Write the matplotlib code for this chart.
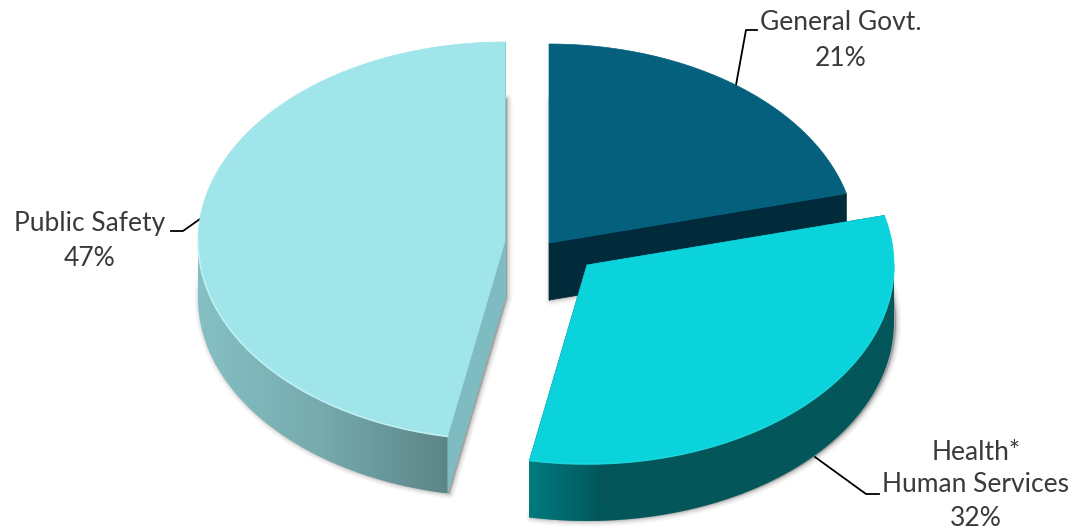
import numpy as np
import matplotlib
matplotlib.use("Agg")
import matplotlib.pyplot as plt
from matplotlib.colors import LinearSegmentedColormap
from matplotlib.patches import Polygon

######################### DATA #########################

categories = ["General Govt.", "Health*\nHuman Services", "Public Safety"]
shares = [21, 32, 47]

######################### STYLE #########################

RX, RY, DEPTH = 307, 199, 57
centers = [(549, 243), (587, 265), (505, 241)]
top_colors = ["#04607C", "#0AD3DC", "#9FE5E9"]
face_colors = ["#012B3B", "#03565A", "#7EBCC2"]
wall_colors = [("#012B3B", "#012B3B"), ("#007B80", "#03565A", "#03565A", "#03565A", "#03565A", "#03565A"),
               ("#85C0C4", "#76AAAD", "#5C8587")]
rim_colors = [None, "#1FD8DE", "#C8F6F7"]

# label centre x, first line y, line gap and the leader line for each slice
label_x = [841, 976, 90]
label_y = [22, 452, 223]
label_gap = [36, 33, 36]
leaders = [([736, 746, 757], [85, 30, 30]),
           ([815, 866, 879], [457, 494, 494]),
           ([171, 183, 200], [231, 231, 219])]

plt.rcParams["font.family"] = ["Lato", "DejaVu Sans"]


def rim(center, a0, a1):
    # angles run clockwise from the top of the pie, y axis points down
    t = np.radians(np.linspace(a0, a1, 200))
    return center[0] + RX * np.sin(t), center[1] - RY * np.cos(t)


def draw_shadow(ax, xs, ys):
    for lw, alpha in [(8, 0.04), (6, 0.06), (4, 0.08), (2.5, 0.1), (1.2, 0.12)]:
        ax.add_patch(Polygon(np.column_stack([xs, ys]), closed=True, facecolor="#555555",
                             edgecolor="#555555", lw=lw, alpha=alpha, joinstyle="round", zorder=1))


def draw_slice(ax, i, a0, a1):
    cx, cy = centers[i]
    x, y = rim(centers[i], a0, a1)
    top_x = np.r_[cx, x]
    top_y = np.r_[cy, y]

    ##### SOFT SHADOW FROM THE BOTTOM FACE #####
    draw_shadow(ax, top_x + 2, top_y + DEPTH)

    z = 2 + i * 2

    ##### CUT FACES #####
    for ex, ey in [(x[0], y[0]), (x[-1], y[-1])]:
        ax.add_patch(Polygon([(cx, cy), (ex, ey), (ex, ey + DEPTH), (cx, cy + DEPTH)],
                             closed=True, facecolor=face_colors[i], edgecolor=face_colors[i],
                             lw=0.5, zorder=z))

    ##### OUTER WALL WITH HORIZONTAL GRADIENT #####
    w0, w1 = max(a0, 90), min(a1, 270)
    if w1 > w0:
        wx, wy = rim(centers[i], w0, w1)
        wall = Polygon(np.column_stack([np.r_[wx, wx[::-1]], np.r_[wy, wy[::-1] + DEPTH]]),
                       closed=True, facecolor="none", edgecolor="none", transform=ax.transData)
        ax.add_patch(wall)
        cmap = LinearSegmentedColormap.from_list("wall", wall_colors[i])
        grad = np.linspace(0, 1, 256).reshape(1, -1)
        im = ax.imshow(grad, cmap=cmap, aspect="auto", interpolation="bilinear", zorder=z + 0.5,
                       extent=(wx.min(), wx.max(), wy.max() + DEPTH, wy.min()))
        im.set_clip_path(wall)

    ##### TOP FACE #####
    ax.add_patch(Polygon(np.column_stack([top_x, top_y]), closed=True, facecolor=top_colors[i],
                         edgecolor=top_colors[i], lw=0.5, zorder=z + 1))
    if rim_colors[i] and w1 > w0:
        ax.plot(wx, wy, color=rim_colors[i], lw=1.2, alpha=0.8, zorder=z + 1.2)


######################### GRAPH #########################

fig = plt.figure(figsize=(10.86, 5.31), dpi=100)
ax = fig.add_axes([0, 0, 1, 1])

edges = np.r_[0, np.cumsum(shares)] / np.sum(shares) * 360
for i in range(len(shares)):
    draw_slice(ax, i, edges[i], edges[i + 1])

for i, name in enumerate(categories):
    lines = name.split("\n") + [f"{shares[i]}%"]
    for n, line in enumerate(lines):
        ax.text(label_x[i], label_y[i] + n * label_gap[i], line, ha="center", va="center",
                fontsize=19, fontweight="normal", color="#3A3A3A", zorder=20)
    ax.plot(leaders[i][0], leaders[i][1], color="black", lw=1.3, zorder=1.5)

ax.set_xlim(0, 1086)
ax.set_ylim(531, 0)
ax.axis("off")

fig.savefig("out.png", dpi=100, facecolor="white")
plt.close(fig)
